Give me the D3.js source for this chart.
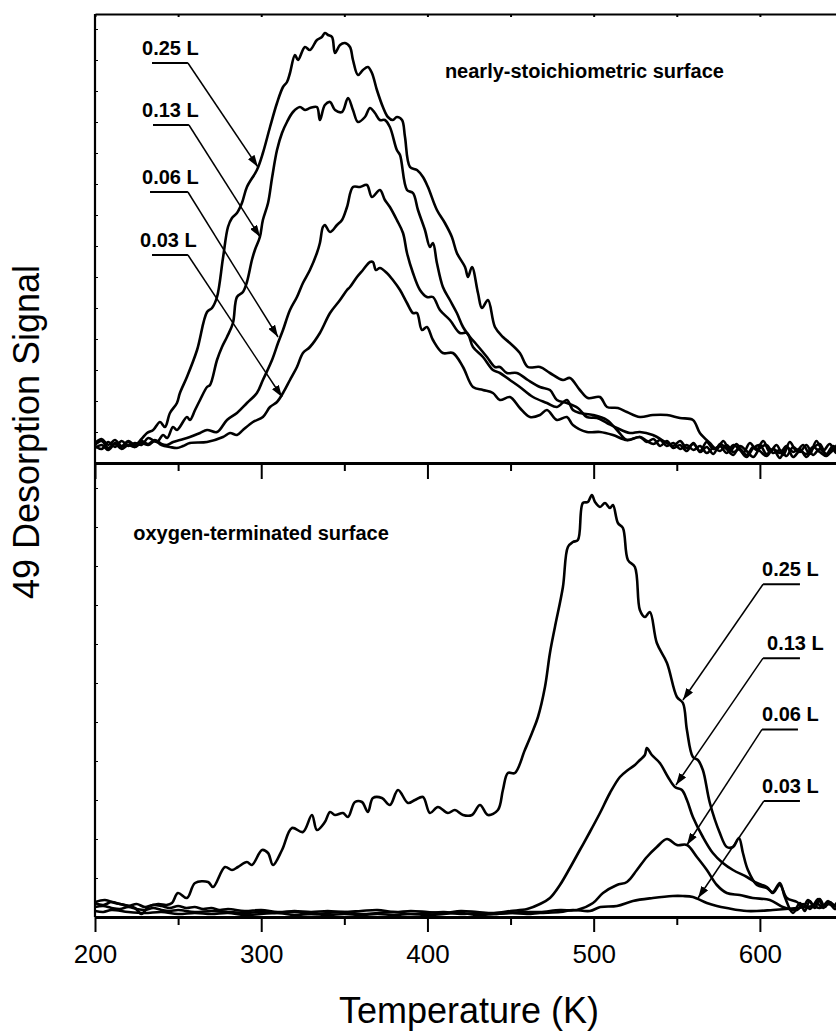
<!DOCTYPE html>
<html>
<head>
<meta charset="utf-8">
<script src="https://cdn.jsdelivr.net/npm/d3@7"></script>
<style>
  body { margin: 0; background: #fff; }
  svg { display: block; font-family: "Liberation Sans", Arial, sans-serif; }
</style>
</head>
<body>
<svg id="chart"></svg>
<script>
// temperature (K) vs. mass 49 desorption signal (arbitrary units)
// nearly-stoichiometric surface
const top025 = [[200,5],[204,6],[208,4.5],[212,5.75],[216,4.25],[220,5.5],[224,4.5],[228,6],[231.3,7.5],[235,8.25],[239.1,10.25],[242.1,9],[245.1,12.5],[249.3,15],[251.1,17.5],[255.3,21.5],[261.4,28.25],[267.4,37.75],[270.4,38.75],[273.4,41.5],[277,51.25],[280,59],[282.4,61.25],[285.4,62.5],[288.4,65],[291.4,69],[297.4,73.25],[301,77.5],[305.3,84],[309.5,90],[313.1,94],[315.5,95.25],[317.3,97.5],[320.3,102],[322.1,100.75],[326.3,104],[329.3,103.25],[333.5,105.75],[336.5,106.5],[338.3,107.5],[340.2,107],[342.6,106.5],[344.4,102.5],[347.4,104.5],[350.4,105],[353.4,104],[355.2,100.75],[358.2,97],[361.2,98.25],[364.2,99],[366.6,97.5],[369.6,93.25],[373.2,89],[376.2,86.5],[379.2,85.75],[381.6,86.5],[384.7,85.75],[386.5,81.5],[389.5,74],[393.7,73.25],[397.3,71.5],[400.3,69],[405.7,63.25],[410.5,60],[414.7,56.5],[417.7,52.5],[422.6,49],[424.4,46.5],[426.8,49],[430.4,42.5],[432.8,38.75],[436.4,40.75],[440.6,34],[445.4,31.5],[449.6,30],[455.6,27.5],[460.4,24],[467.7,24],[473.7,22.5],[481.5,20.75],[485.7,21.25],[491.7,18.25],[496.5,16.25],[503.8,16.5],[508,14],[514.6,13.75],[520,12.75],[527.8,11.5],[535.6,12],[544.1,12],[551.9,11.25],[559.7,10.75],[563.9,7.5],[569.9,5],[574,3.5],[578,5.5],[582,3],[586,4.75],[590,2.5],[594,5],[598,3.25],[602,5.5],[606,2.75],[610,4.5],[614,2],[618,5.25],[622,3],[626,4.5],[630,2.25],[634,5.5],[638,3],[642,4.75],[646,2.5],[650,4]]
const top013 = [[200,4.25],[204,3.5],[208,5.25],[212,4],[216,5.5],[220,4.25],[224,5],[228,4.5],[232,6.25],[237.3,5.25],[240.9,7],[243.5,6.25],[246.9,9],[249.3,8.25],[255.3,11.5],[257.1,10.75],[260.2,13.25],[263.2,15.75],[267.4,19],[269.2,19.5],[273.4,25.75],[276.4,29],[279.4,31.5],[283,35],[285.4,41.5],[289,42.75],[291.4,45.25],[294.4,50.75],[296.2,53.25],[299.2,56.5],[301,60.75],[304.1,65],[306.5,71.25],[309.5,78.25],[312.5,82.5],[315.5,85.25],[319.1,87.75],[323.3,89],[326.3,88.25],[329.3,88.75],[333.5,89],[335.3,85.75],[338.3,89.5],[341.4,90.25],[344.4,88.25],[348.6,87.75],[352.2,91.25],[355.2,88.25],[358.2,85.25],[362.4,86.5],[365.4,88.75],[368.4,87.5],[371.4,85.75],[374.4,85.75],[377.4,84],[381.6,78.25],[383.5,77],[387.7,68.25],[391.3,67.5],[394.3,63.25],[398.5,58.25],[401.5,54],[403.3,55],[405.7,50],[409.3,44],[413.5,40.75],[417.7,37.5],[421.4,34],[425.6,31.5],[429.8,29.5],[435.8,26.5],[440.6,24],[443.6,24],[447.8,22.5],[453.8,22.5],[460.4,20.75],[467.7,19],[473.7,18.25],[477.9,15.75],[483.9,15],[490.5,13.75],[495.9,11.5],[502,11.25],[508,10],[514,8.75],[521.8,7.5],[527.8,7.75],[535.6,7],[544.1,5],[548,4.25],[552,5.5],[556,3.75],[560,4.75],[564,3],[568,5.25],[572,3.5],[576,4.25],[580,2.5],[584,4.5],[588,3.25],[592,1.5],[596,3.75],[600,4.5],[604,2.25],[608,3.5],[612,1.25],[616,4],[620,2.75],[624,3.5],[628,1.5],[632,3.75],[636,4.75],[640,2],[644,3.25],[648,5],[650,3.5]]
const top006 = [[200,4.5],[204,5.5],[208,3.75],[212,5],[216,4],[220,5.25],[224,4],[228,5.5],[232,4.75],[236,5.75],[240,4.75],[243.3,4.5],[247,5.25],[251.1,5.75],[257.1,6.5],[263.2,7.5],[267.4,8.25],[273.4,7.75],[279.4,10.75],[285.4,12.5],[291.4,15],[297.4,17.5],[301,20.75],[306.5,25.75],[310.1,30],[313.1,33.25],[317.3,38.25],[321.5,41.5],[325.1,45],[329.3,48.25],[333.5,52.5],[335.3,55],[337.1,59],[338.3,59.5],[341.4,57.75],[345.6,59.5],[348.6,60.75],[351.6,64],[355.2,69],[359.4,69],[363.6,69.5],[366.6,66.5],[371.4,68.25],[374.4,65.75],[377.4,64],[381.6,60.75],[385.3,57.5],[387.7,52.5],[391.3,47.5],[395.5,43.25],[399.7,41.5],[403.3,41.5],[407.5,38.25],[413.5,35.75],[419.5,32.5],[423.8,32.5],[427.4,29],[433.4,26.5],[439.4,23.25],[443.6,22.5],[449.6,20.75],[455.6,19],[463.5,16.5],[471.9,15],[477.9,14],[483.9,15.75],[487.5,13.25],[491.7,12.5],[499.6,12],[508,10.75],[514,8.25],[520,5.75],[527.8,6.5],[532,5.25],[536,6],[540,4.25],[544,5.5],[548,3.75],[552,4.5],[556,3],[560,5],[564,2.75],[568,4],[572,2.25],[576,4.75],[580,3.5],[584,2],[588,4.25],[592,3],[596,1.5],[600,3.75],[604,4.5],[608,2.5],[612,3.25],[616,1.75],[620,4],[624,2.75],[628,4.5],[632,2],[636,3.5],[640,2.25],[644,4.25],[648,3],[650,3.75]]
const top003 = [[200,3.75],[204,4.5],[208,3.25],[212,4.75],[216,3.5],[220,4.5],[224,4],[228,5],[232,4.5],[236,5.5],[240,4.5],[245.1,4],[249.3,3.75],[253,4.25],[257.1,5],[267.4,5.25],[277,6.5],[281.2,7.5],[285.4,7],[289,8.25],[295,10.25],[301,11.5],[305.3,14],[309.5,15.25],[313.1,17.5],[317.3,20.75],[321.5,24],[325.1,27.5],[329.3,29],[335.3,32.5],[341.4,37.5],[347.4,40.75],[351.6,43.25],[353.4,44],[357.6,46.5],[361.2,48.25],[365.4,50.25],[367.2,50.25],[369,48.25],[371.4,48.75],[375.6,47.5],[379.2,45.75],[383.5,43.25],[387.7,40],[391.3,37.5],[393.7,37.5],[396.7,33.25],[399.7,34],[403.3,30.75],[409.3,27.5],[415.3,27.5],[421.4,24],[427.4,19],[433.4,18.25],[439.4,17.5],[443.6,15.75],[449.6,16.5],[455.6,13.75],[461.7,11.5],[467.7,12],[471.9,13.25],[477.9,10.75],[483.9,11.5],[487.5,9.5],[495.9,7.75],[503.8,7.75],[511.6,7],[520,5.75],[527.8,6.5],[532,5.5],[536,4.75],[540,5.75],[544,4.25],[548,5],[552,3.5],[556,4.5],[560,3.25],[564,4.25],[568,2.5],[572,3.75],[576,3],[580,4.5],[584,2.75],[588,3.5],[592,2],[596,4],[600,3],[604,1.75],[608,3.5],[612,2.5],[616,4.25],[620,1.5],[624,3],[628,2.25],[632,4],[636,2.75],[640,1.75],[644,3.5],[648,2.5],[650,3]]

// oxygen-terminated surface
const bot025 = [[200,3.75],[206,4.25],[212,3.5],[218,3],[224,2.25],[228,0.75],[232,2.5],[238,3.25],[243,3],[246.3,3.5],[249.9,6],[255.3,4.75],[260.2,8.5],[268,8.75],[271,7.5],[278.2,12.5],[282.4,11.75],[286,12.5],[291.4,13.75],[294.4,13],[300.5,16.75],[304.1,16],[307.1,13],[312.5,16.75],[318.5,22.25],[325.1,21.25],[330.5,25.5],[333.5,21.75],[338.3,23.75],[341.4,26.25],[344.4,25.5],[349.2,26],[352.2,25],[356.4,28.75],[360.6,28.75],[364.2,26.25],[367.2,29.75],[372.6,29.75],[377.4,28],[382.3,31.75],[388.3,28.5],[392.5,29.25],[397.3,30],[401.5,26],[406.3,27.5],[412.3,26],[416.5,26.75],[421.4,25.5],[426.8,25.5],[431.6,28],[436.4,25.5],[442.4,26.75],[445.4,31.75],[448.4,36],[452.6,36],[458.6,41.75],[462.9,46],[466.5,50],[470.7,57.5],[473.7,66],[476.7,72.5],[481.5,82.5],[484.5,92.5],[487.5,93.75],[490.5,94.25],[493.5,103.5],[496.5,103.75],[498.9,105.5],[500.8,103.75],[503.8,102.5],[506.8,103.5],[509.8,102.25],[511.6,103],[514.6,98.5],[517.6,97.25],[520.6,89.25],[524.8,87.5],[527.8,76.75],[530.8,75],[533.8,76.25],[538,68.5],[544.1,63.5],[550.1,55],[553.7,53.5],[556.1,46.75],[559.7,40],[562.7,39.25],[565.7,36.75],[569.9,28.5],[575.9,21],[580.1,17.5],[583.8,17.5],[587.4,19.75],[589.8,16],[592.8,11.75],[598.2,8],[604.2,7.25],[607.8,6.25],[612,8.5],[615,5],[619.9,1],[624.1,3.5],[627,1.5],[630,4],[633,2.25],[636,4.5],[639,2.5],[642,3.75],[645,2],[650,3]]
const bot013 = [[200,3.5],[205,3],[210,3.75],[215,3.25],[220,2.75],[225,3.25],[230,2.5],[235,3],[240,2.75],[245,2.25],[250,2.75],[255,2.25],[260,2.5],[265,2],[270,2.25],[275,1.75],[280,2],[290,1.5],[300,1.75],[310,1.25],[320,1.5],[330,1.25],[340,1.5],[350,1.25],[360,1.5],[370,1.75],[380,1.25],[390,1.5],[400,1.25],[410,1],[420,1.5],[430,1.25],[440,1],[450,1.5],[460,2],[467.7,3.25],[473.7,4.75],[479.7,8],[485.7,12.25],[491.7,16.75],[497.7,21.25],[503.8,26],[509.8,31],[515.8,35],[520.6,36.75],[524.8,38],[527.8,39.25],[530.8,40.5],[532,42.25],[535,40.5],[539.8,38.5],[544.7,35],[548.9,32.5],[553.1,31.75],[556.1,29.25],[559.7,25],[565.7,20],[571.7,16],[577.7,13.5],[583.8,11.75],[592.2,10],[598.2,8.5],[604.2,7.5],[607.8,6],[612,8],[616.2,4.75],[622.3,3.75],[626,2.5],[629,4.25],[632,3],[635,4.5],[638,2.75],[641,4],[644,2.5],[647,3.75],[650,3]]
const bot006 = [[200,2.5],[205,2.75],[210,2.25],[215,2],[220,2.5],[225,2],[230,1.75],[235,2.25],[240,1.75],[245,1.5],[250,1.75],[260,1.25],[270,1.5],[280,1.25],[290,1],[300,1.25],[310,1],[320,1.25],[330,0.75],[340,1],[350,1.25],[360,0.75],[370,1],[380,1.25],[390,0.75],[400,1],[410,1.25],[420,0.75],[430,1],[440,0.75],[450,1],[456.8,1.25],[467.7,1.25],[479.7,1.75],[489.9,1.75],[499.6,3.5],[505.6,6],[514,8],[520,8.75],[526,11.75],[532,15],[538,17.5],[544.1,19.5],[550.1,18],[556.1,18],[562.1,15],[568.1,11.75],[574.1,8],[580.1,6],[587.9,5.5],[595.7,4.75],[606,4.25],[613.8,2.5],[622.3,1.75],[626,3.25],[630,2],[634,3.5],[638,2.25],[642,3.75],[646,2.5],[650,3.25]]
const bot003 = [[200,1.5],[205,1.25],[210,1.75],[220,1.25],[230,1],[240,1.25],[250,0.75],[260,1],[270,0.75],[280,1],[290,0.5],[300,0.75],[310,1],[320,0.5],[330,0.75],[340,0.5],[350,0.75],[360,0.5],[370,0.75],[380,0.5],[390,0.75],[400,0.5],[410,0.75],[420,1],[430,0.5],[440,0.75],[450,1],[460,0.75],[467.7,1],[480,1.25],[487.5,1.75],[497.7,1.5],[504,2.5],[514,2.75],[523.6,4],[535.6,4.75],[547.6,5.25],[553.7,5.25],[559.7,5],[568.1,3.5],[574.1,2.75],[580.1,2.25],[592.2,1.5],[607.8,1.75],[628.3,2.5],[632,2.75],[636,2.25],[640,3.25],[643.9,3],[650,2.75]]

const topSeries = [top025, top013, top006, top003]
const botSeries = [bot025, bot013, bot006, bot003]

const majorTicks = [200, 300, 400, 500, 600]
const minorTicks = [250, 350, 450, 550, 650]

// annotation anchors in data units (T, signal)
const topNotes = [
    { label: '0.25 L', textT: 228.3, lineT: [234.3, 255.9], lineV: 100,   tipT: 298.0, tipV: 74,   fromEnd: true },
    { label: '0.13 L', textT: 228.3, lineT: [234.9, 256.5], lineV: 84.5,  tipT: 299.3, tipV: 56.5, fromEnd: true },
    { label: '0.06 L', textT: 228.3, lineT: [233.1, 255.9], lineV: 67.75, tipT: 310.1, tipV: 31.5, fromEnd: true },
    { label: '0.03 L', textT: 227.1, lineT: [234.3, 255.9], lineV: 52,    tipT: 312.5, tipV: 16.5, fromEnd: true }
]
const botNotes = [
    { label: '0.25 L', textT: 601.3, lineT: [601.9, 624.1], lineV: 83.2, tipT: 553.7, tipV: 54.25, fromEnd: false },
    { label: '0.13 L', textT: 604.3, lineT: [601.9, 624.1], lineV: 64.7, tipT: 549.5, tipV: 33,    fromEnd: false },
    { label: '0.06 L', textT: 601.3, lineT: [601.3, 622.9], lineV: 46.9, tipT: 556.1, tipV: 18,    fromEnd: false },
    { label: '0.03 L', textT: 601.3, lineT: [602.4, 624.1], lineV: 29,   tipT: 562.8, tipV: 4.75,  fromEnd: false }
]

var svgWidth = 836, svgHeight = 1034
var svg = d3.select('#chart').attr('width', svgWidth).attr('height', svgHeight)

var x = d3.scaleLinear().domain([200, 650]).range([95, 843])
var yTop = d3.scaleLinear().domain([0, 112.25]).range([463, 14])
var yBot = d3.scaleLinear().domain([0, 113.5]).range([917, 463])

var defs = svg.append('defs')
defs.append('marker')
    .attr('id', 'arrow')
    .attr('markerUnits', 'userSpaceOnUse')
    .attr('markerWidth', 12).attr('markerHeight', 8)
    .attr('refX', 12).attr('refY', 4)
    .attr('orient', 'auto')
    .append('path')
    .attr('d', 'M0,0 L12,4 L0,8 Z')
    .attr('fill', '#000')

defs.append('clipPath').attr('id', 'clipTop').append('rect')
    .attr('x', 95).attr('y', 14).attr('width', 750).attr('height', 449)
defs.append('clipPath').attr('id', 'clipBot').append('rect')
    .attr('x', 95).attr('y', 463).attr('width', 750).attr('height', 454)

function drawPanel(series, y, clip) {
    var line = d3.line()
        .x(function (d) { return x(d[0]) })
        .y(function (d) { return y(d[1]) })
        .curve(d3.curveCatmullRom.alpha(0.5))
    svg.append('g')
        .attr('clip-path', 'url(#' + clip + ')')
        .selectAll('path')
        .data(series)
        .join('path')
        .attr('fill', 'none')
        .attr('stroke', '#000')
        .attr('stroke-width', 2.6)
        .attr('stroke-linejoin', 'round')
        .attr('d', line)
}
drawPanel(topSeries, yTop, 'clipTop')
drawPanel(botSeries, yBot, 'clipBot')

// horizontal axes: top border, panel divider, bottom axis
function hAxis(yPos, majorLen, minorLen, width, labels) {
    var g = svg.append('g').attr('transform', 'translate(0,' + yPos + ')')
    g.append('g')
        .call(d3.axisBottom(x).tickValues(minorTicks).tickSize(minorLen).tickSizeOuter(0).tickFormat(''))
        .call(function (a) { a.select('.domain').remove() })
        .selectAll('line').attr('stroke-width', 2)
    var major = g.append('g')
        .call(d3.axisBottom(x).tickValues(majorTicks).tickSize(majorLen).tickSizeOuter(0)
            .tickFormat(labels ? d3.format('d') : ''))
    major.select('.domain').attr('stroke-width', width)
    major.selectAll('line').attr('stroke-width', 2)
    major.selectAll('text')
        .attr('y', 46).attr('dy', 0)
        .attr('font-size', 26)
        .attr('font-family', '"Liberation Sans", Arial, sans-serif')
        .attr('fill', '#000')
}
hAxis(14, 3, 3, 2, false)
hAxis(463, 16, 8, 3.2, false)
hAxis(917, 15, 8, 3, true)

// left axis with small inward ticks
svg.append('g').attr('transform', 'translate(95,0)')
    .call(d3.axisRight(yTop).tickValues(d3.range(7.75, 112, 7.75)).tickSize(3).tickFormat(''))
    .call(function (a) { a.select('.domain').remove() })
svg.append('g').attr('transform', 'translate(95,0)')
    .call(d3.axisRight(yBot).tickValues(d3.range(9.75, 113, 9.75)).tickSize(3).tickFormat(''))
    .call(function (a) { a.select('.domain').remove() })
svg.append('line')
    .attr('x1', x(200)).attr('x2', x(200))
    .attr('y1', yTop.range()[1]).attr('y2', yBot.range()[0])
    .attr('stroke', '#000').attr('stroke-width', 2.2)

// annotations
function drawNotes(notes, y) {
    var g = svg.append('g')
    notes.forEach(function (n) {
        var yy = y(n.lineV)
        g.append('line')
            .attr('x1', x(n.lineT[0])).attr('x2', x(n.lineT[1]))
            .attr('y1', yy).attr('y2', yy)
            .attr('stroke', '#000').attr('stroke-width', 2)
        var sx = n.fromEnd ? x(n.lineT[1]) : x(n.lineT[0])
        g.append('line')
            .attr('x1', sx).attr('y1', yy)
            .attr('x2', x(n.tipT)).attr('y2', y(n.tipV))
            .attr('stroke', '#000').attr('stroke-width', 1.5)
            .attr('marker-end', 'url(#arrow)')
        g.append('text')
            .attr('x', x(n.textT)).attr('y', yy - 8)
            .attr('font-size', 20).attr('font-weight', 'bold')
            .text(n.label)
    })
}
drawNotes(topNotes, yTop)
drawNotes(botNotes, yBot)

svg.append('text')
    .attr('x', x(410.5)).attr('y', yTop(96.25))
    .attr('font-size', 20).attr('font-weight', 'bold')
    .text('nearly-stoichiometric surface')
svg.append('text')
    .attr('x', x(223)).attr('y', yBot(94.25))
    .attr('font-size', 20).attr('font-weight', 'bold')
    .text('oxygen-terminated surface')

// axis titles
svg.append('text')
    .attr('x', d3.mean(x.range())).attr('y', 1023)
    .attr('text-anchor', 'middle')
    .attr('font-size', 36)
    .text('Temperature (K)')
svg.append('text')
    .attr('transform', 'translate(39,432) rotate(-90)')
    .attr('text-anchor', 'middle')
    .attr('font-size', 36)
    .text('49 Desorption Signal')
</script>
</body>
</html>
